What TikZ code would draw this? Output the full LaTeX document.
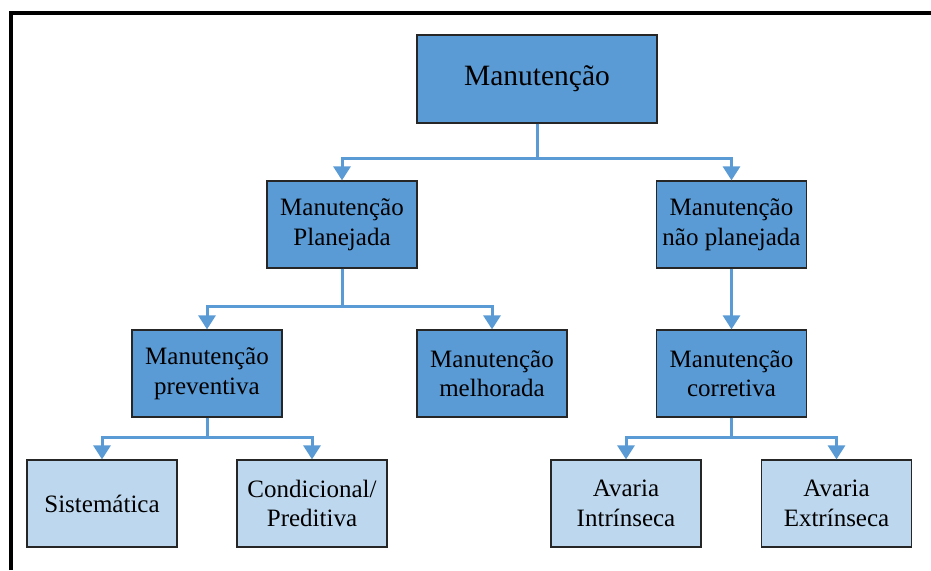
\documentclass[tikz,border=0pt]{standalone}
\usepackage{fontspec}
\setmainfont{Liberation Serif}
\usepackage{xcolor}
\usepackage{tikz}
\definecolor{darkblue}{HTML}{5B9BD5}
\definecolor{lightblue}{HTML}{BDD7EE}
\definecolor{linkblue}{HTML}{5B9BD5}
\usetikzlibrary{arrows.meta, positioning}

\begin{document}
\begin{tikzpicture}[x=1pt, y=-1pt,
    box/.style={rectangle, draw=black!85, line width=1.2pt, minimum width=150pt, minimum height=87pt, align=center, inner sep=2pt, font=\fontsize{25}{29.5}\selectfont},
    topbox/.style={box, fill=darkblue, minimum width=240pt, minimum height=88pt, font=\fontsize{29.5}{30}\selectfont},
    midbox/.style={box, fill=darkblue},
    leafbox/.style={box, fill=lightblue},
    link/.style={-{Triangle[width=17pt,length=14pt]}, draw=linkblue, line width=3pt}
]
    \useasboundingbox (0,0) rectangle (931,570);
    % frame
    \draw[line width=4pt] (11,570) -- (11,13) -- (931,13);

    \node[topbox] (mnt) at (537,79) {Manutenção};

    \node[midbox] (plan) at (342,224.5) {Manutenção\\Planejada};
    \node[midbox] (naoplan) at (731.5,224.5) {Manutenção\\não planejada};

    \node[midbox] (prev) at (207,373.5) {Manutenção\\preventiva};
    \node[midbox] (melh) at (492,373.5) {Manutenção\\melhorada};
    \node[midbox] (corr) at (731.5,373.5) {Manutenção\\corretiva};

    \node[leafbox] (sist) at (102,503.5) {Sistemática};
    \node[leafbox] (cond) at (312,503.5) {Condicional/\\Preditiva};
    \node[leafbox] (intr) at (626,503.5) {Avaria\\Intrínseca};
    \node[leafbox] (extr) at (836.5,503.5) {Avaria\\Extrínseca};

    \draw[link] (mnt.south) -- ++(0,35) -| (plan.north);
    \draw[link] (mnt.south) -- ++(0,35) -| (naoplan.north);

    \draw[link] (plan.south) -- ++(0,38) -| (prev.north);
    \draw[link] (plan.south) -- ++(0,38) -| (melh.north);

    \draw[link] (naoplan.south) -- (corr.north);

    \draw[link] (prev.south) -- ++(0,20) -| (sist.north);
    \draw[link] (prev.south) -- ++(0,20) -| (cond.north);

    \draw[link] (corr.south) -- ++(0,20) -| (intr.north);
    \draw[link] (corr.south) -- ++(0,20) -| (extr.north);
\end{tikzpicture}
\end{document}
